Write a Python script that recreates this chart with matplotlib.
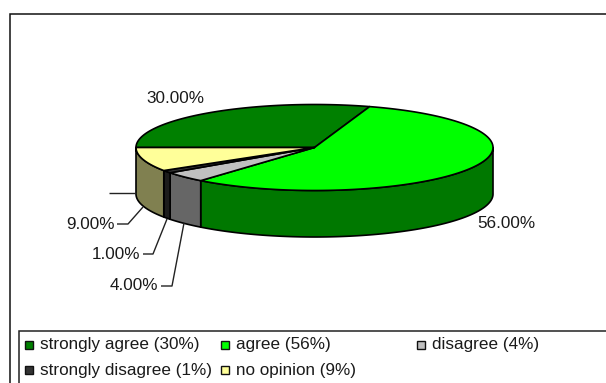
import numpy as np
import matplotlib
matplotlib.use("Agg")
import matplotlib.pyplot as plt
from matplotlib.patches import Polygon, Rectangle

plt.rcParams["font.family"] = ["Liberation Sans", "DejaVu Sans"]

# Survey answers
labels = ["strongly agree", "agree", "disagree", "strongly disagree", "no opinion"]
values = [30, 56, 4, 1, 9]
top_colors = ["#008000", "#00ff00", "#c0c0c0", "#333333", "#ffff99"]
side_colors = ["#006000", "#007800", "#666666", "#1c1c1c", "#808050"]
value_labels = ["30.00%", "56.00%", "4.00%", "1.00%", "9.00%"]

# pie geometry in pixels
cx, cy = 314.5, 147.5
rx, ry = 178.5, 43.0
depth = 46.5
edge = "#000000"

fig = plt.figure(figsize=(6.06, 3.83), dpi=100)
ax = fig.add_axes([0, 0, 1, 1])
ax.set_xlim(0, 606)
ax.set_ylim(383, 0)
ax.axis("off")


def rim(a0, a1, n=120):
    # angle measured clockwise on screen, 0 = 3 o'clock (y axis points down)
    t = np.radians(np.linspace(a0, a1, n))
    return cx + rx * np.cos(t), cy + ry * np.sin(t)


# chart frame and legend box
ax.add_patch(Rectangle((9.5, 13.5), 640, 400, fc="white", ec="#111111", lw=1.1, zorder=1))
ax.add_patch(Rectangle((18.5, 330.5), 640, 80, fc="white", ec="#222222", lw=1.1, zorder=2))

# slices start at 9 o'clock and run clockwise
angles = 180 + np.cumsum([0] + values) * 3.6
for i in range(len(values)):
    a0, a1 = angles[i], angles[i + 1]

    # outer wall, only the part in the front half is visible
    for lo, hi in [(a0, a1), (a0 - 360, a1 - 360)]:
        s0, s1 = max(lo, 0), min(hi, 180)
        if s1 > s0:
            x, y = rim(s0, s1)
            wall = np.column_stack([np.r_[x, x[::-1]], np.r_[y, y[::-1] + depth]])
            ax.add_patch(Polygon(wall, closed=True, fc=side_colors[i], ec=edge,
                                 lw=1.2, joinstyle="round", zorder=3))

    # top face
    x, y = rim(a0, a1)
    face = np.column_stack([np.r_[cx, x], np.r_[cy, y]])
    ax.add_patch(Polygon(face, closed=True, fc=top_colors[i], ec=edge,
                         lw=1.2, joinstyle="round", zorder=4))

# value labels and leader lines
text_color = "#1a1a1a"
ax.text(204, 98.5, value_labels[0], fontsize=12.3, color=text_color, ha="right", va="center")
ax.text(535, 223, value_labels[1], fontsize=12.3, color=text_color, ha="right", va="center")
ax.text(158.5, 286, value_labels[2], fontsize=12.3, color=text_color, ha="right", va="center")
ax.text(140.5, 254.5, value_labels[3], fontsize=12.3, color=text_color, ha="right", va="center")
ax.text(114.5, 224.5, value_labels[4], fontsize=12.3, color=text_color, ha="right", va="center")

leaders = [
    ([161, 172, 184], [286, 286, 223]),
    ([143, 153, 167], [254, 254, 219]),
    ([117, 128, 143], [224, 224, 207]),
    ([109, 136], [193, 193]),
]
for lx, ly in leaders:
    ax.plot(lx, ly, color="#222222", lw=1.0, zorder=5, solid_capstyle="butt")

# legend
legend_x = [25, 221, 417, 25, 221]
legend_y = [344.5, 344.5, 344.5, 370, 370]
for i in range(len(labels)):
    ax.add_patch(Rectangle((legend_x[i], legend_y[i] - 4), 8, 8, fc=top_colors[i],
                           ec="#111111", lw=1.0, zorder=5))
    ax.text(legend_x[i] + 15, legend_y[i] + 0.5, f"{labels[i]} ({values[i]}%)", fontsize=12.35,
            color=text_color, ha="left", va="center", zorder=5)

fig.savefig("out.png", dpi=100)
plt.close(fig)
